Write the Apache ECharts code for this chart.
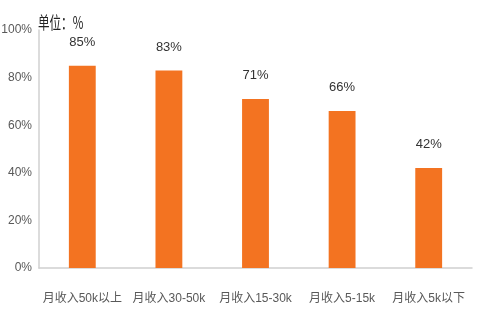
<!DOCTYPE html>
<html><head><meta charset="utf-8">
<script src="https://cdn.jsdelivr.net/npm/echarts@6/dist/echarts.min.js"></script>
<style>html,body{margin:0;padding:0;background:#fff}#c{width:484px;height:332px}</style>
</head><body><div id="c"></div>
<script>
const categories = ['月收入50k以上','月收入30-50k','月收入15-30k','月收入5-15k','月收入5k以下'];
const values = [85, 83, 71, 66, 42];
const unitLabel = '单位：%';
const numFont = "'Liberation Sans','Noto Sans CJK SC',sans-serif";
const chart = echarts.init(document.getElementById('c'));
chart.setOption({
  animation: false,
  grid: {left: 39, right: 12, top: 30, bottom: 64, outerBoundsMode: 'none', containLabel: false},
  graphic: [{type: 'text', x: 38, y: 14, scaleX: 0.68, style: {text: unitLabel, fill: '#222', font: "17px 'Noto Sans CJK SC', sans-serif"}}],
  xAxis: {
    type: 'category', data: categories,
    axisLine: {lineStyle: {color: '#d0d0d0', width: 1.5}},
    axisTick: {show: false},
    axisLabel: {interval: 0, color: '#595959', fontSize: 12, margin: 25, fontFamily: numFont}
  },
  yAxis: {
    type: 'value', min: 0, max: 100, interval: 20,
    axisLine: {show: true, lineStyle: {color: '#d0d0d0', width: 1.5}},
    axisTick: {show: false},
    splitLine: {show: false},
    axisLabel: {color: '#595959', fontSize: 12, margin: 7, fontFamily: numFont, formatter: '{value}%'}
  },
  series: [{
    type: 'bar', data: values, barWidth: '31%',
    itemStyle: {color: '#f37321'},
    label: {show: true, position: 'top', distance: 17, color: '#333', fontSize: 13, fontFamily: numFont, formatter: '{c}%'}
  }]
});
</script></body></html>
